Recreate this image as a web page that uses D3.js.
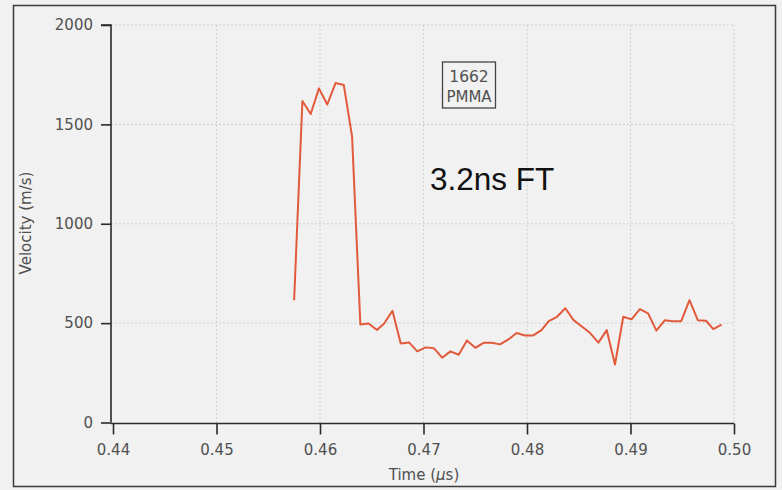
<!DOCTYPE html>
<html>
<head>
<meta charset="utf-8">
<script src="https://cdn.jsdelivr.net/npm/d3@7"></script>
<style>
  body { margin: 0; background: #f1f1f1; }
  svg { display: block; }
</style>
</head>
<body>
<svg width="782" height="490"></svg>
<script>
// time samples (µs)
const times = [0.4575, 0.4583, 0.4591, 0.4599, 0.4607, 0.4615, 0.4623, 0.4631, 0.4639, 0.4647,
  0.4655, 0.4662, 0.4670, 0.4678, 0.4686, 0.4694, 0.4702, 0.4710, 0.4718, 0.4726,
  0.4734, 0.4742, 0.4750, 0.4758, 0.4766, 0.4774, 0.4782, 0.4790, 0.4798, 0.4806,
  0.4814, 0.4821, 0.4829, 0.4837, 0.4845, 0.4853, 0.4861, 0.4869, 0.4877, 0.4885,
  0.4893, 0.4901, 0.4909, 0.4917, 0.4925, 0.4933, 0.4941, 0.4949, 0.4957, 0.4965,
  0.4973, 0.4980, 0.4988];
// velocity (m/s)
const velocity = [615, 1618, 1552, 1681, 1600, 1708, 1698, 1438, 493, 498,
  465, 498, 562, 398, 403, 358, 378, 374, 326, 358,
  341, 413, 376, 401, 401, 393, 418, 450, 438, 438,
  465, 510, 532, 575, 515, 483, 450, 402, 465, 292,
  532, 519, 570, 549, 462, 514, 510, 510, 616, 515,
  512, 470, 492];
const xTicks = [0.44, 0.45, 0.46, 0.47, 0.48, 0.49, 0.50];
const yTicks = [0, 500, 1000, 1500, 2000];

const svg = d3.select("svg");
const fontFam = "'DejaVu Sans', sans-serif";
const txtCol = "#505050";

// outer frame
svg.append("rect")
  .attr("x", 13.5).attr("y", 5.5).attr("width", 762).attr("height", 481)
  .attr("fill", "none").attr("stroke", "#3a3a3a").attr("stroke-width", 1.5);

let x = d3.scaleLinear().domain([0.44, 0.50]).range([113, 734]);
let y = d3.scaleLinear().domain([0, 2000]).range([422.5, 25]);
const axisX = 111;

// gridlines
svg.selectAll("line.vgrid")
  .data(xTicks.slice(1))
  .enter().append("line")
  .attr("class", "vgrid")
  .attr("x1", d => x(d)).attr("x2", d => x(d))
  .attr("y1", y(2000)).attr("y2", y(0))
  .attr("stroke", "#c4c4c4").attr("stroke-width", 1)
  .attr("stroke-dasharray", "1.5,2.5");

svg.selectAll("line.hgrid")
  .data(yTicks.slice(1))
  .enter().append("line")
  .attr("class", "hgrid")
  .attr("x1", axisX).attr("x2", x(0.50))
  .attr("y1", d => y(d)).attr("y2", d => y(d))
  .attr("stroke", "#c4c4c4").attr("stroke-width", 1)
  .attr("stroke-dasharray", "1.5,2.5");

// y axis
let yAxis = d3.axisLeft(y).tickValues(yTicks).tickSize(10).tickPadding(8)
  .tickFormat(d3.format("d"));
let gy = svg.append("g").attr("transform", `translate(${axisX},0)`).call(yAxis);
gy.select(".domain").attr("d", `M-10,${y(2000)}H0V${y(0)}`);

// x axis
let xAxis = d3.axisBottom(x).tickValues(xTicks).tickSize(11).tickPadding(10)
  .tickFormat(d3.format(".2f"));
let gx = svg.append("g").attr("transform", `translate(0,${y(0) + 1})`).call(xAxis);
gx.select(".domain").attr("d", `M${axisX},0H${x(0.50)}`);

svg.selectAll("g").attr("font-family", fontFam).attr("font-size", 15);
svg.selectAll(".tick line").attr("stroke", "#2a2a2a").attr("stroke-width", 1.6);
svg.selectAll(".domain").attr("stroke", "#2a2a2a").attr("stroke-width", 1.6).attr("fill", "none");
svg.selectAll(".tick text")
  .attr("font-family", fontFam).attr("font-size", 15).attr("fill", txtCol);

// axis titles
svg.append("text")
  .attr("transform", "translate(31,223) rotate(-90)")
  .attr("text-anchor", "middle")
  .attr("font-family", fontFam).attr("font-size", 15).attr("fill", txtCol)
  .text("Velocity (m/s)");

let tt = svg.append("text")
  .attr("x", 424).attr("y", 480)
  .attr("text-anchor", "middle")
  .attr("font-family", fontFam).attr("font-size", 15).attr("fill", txtCol);
tt.append("tspan").text("Time (");
tt.append("tspan").attr("font-style", "italic").text("µ");
tt.append("tspan").text("s)");

// data line
let line = d3.line()
  .x((d, i) => x(times[i]))
  .y(d => y(d));
svg.append("path")
  .datum(velocity)
  .attr("d", line)
  .attr("fill", "none")
  .attr("stroke", "#e25a3c")
  .attr("stroke-width", 2)
  .attr("stroke-linejoin", "round");

// annotation box
svg.append("rect")
  .attr("x", 442.5).attr("y", 62).attr("width", 53).attr("height", 46)
  .attr("fill", "none").attr("stroke", "#444").attr("stroke-width", 1.3);
svg.append("text")
  .attr("x", 469).attr("y", 81.5).attr("text-anchor", "middle")
  .attr("font-family", fontFam).attr("font-size", 15.5).attr("fill", txtCol)
  .text("1662");
svg.append("text")
  .attr("x", 469).attr("y", 101.5).attr("text-anchor", "middle")
  .attr("font-family", fontFam).attr("font-size", 15).attr("fill", txtCol)
  .text("PMMA");

svg.append("text")
  .attr("x", 430).attr("y", 190)
  .attr("font-family", "'Liberation Sans', Arial, sans-serif")
  .attr("font-size", 31.5).attr("fill", "#111")
  .text("3.2ns FT");
</script>
</body>
</html>
